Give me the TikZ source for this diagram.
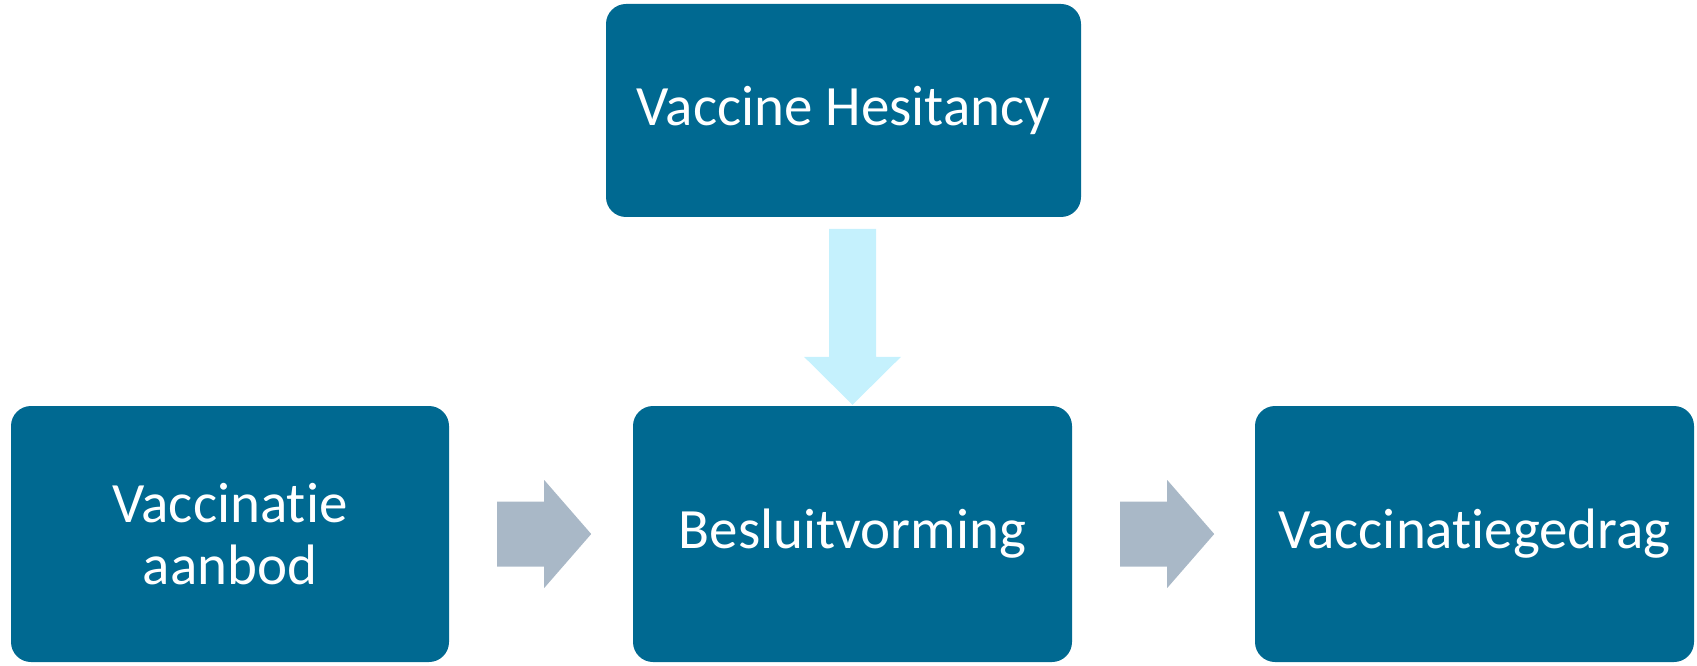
\documentclass[tikz,border=0pt]{standalone}
\usepackage{fontspec}
\setmainfont{Carlito}[Ligatures=NoCommon]
\usepackage{tikz}
\usetikzlibrary{calc}
\definecolor{boxteal}{RGB}{0,105,145}
\definecolor{hesitcyan}{RGB}{197,241,253}
\definecolor{flowgrey}{RGB}{169,184,199}
\tikzset{
  stage/.style={fill=boxteal, text=white, rounded corners=20pt, align=center,
    inner sep=0pt, minimum height=256pt, font=\fontsize{57}{62}\selectfont},
  downarrow/.style={fill=hesitcyan},
  sidearrow/.style={fill=flowgrey}
}

\begin{document}
\begin{tikzpicture}[x=1pt,y=1pt]
\useasboundingbox (0,0) rectangle (1697,665);
\node[stage, minimum width=475pt, minimum height=213pt] (hesitancy) at (843.5,554.5) {Vaccine Hesitancy};
\node[stage, minimum width=438pt] (aanbod) at (230,131) {Vaccinatie\\aanbod};
\node[stage, minimum width=439pt] (besluit) at (852.5,131) {Besluitvorming};
\node[stage, minimum width=439pt] (gedrag) at (1474.5,131) {Vaccinatiegedrag};
% hesitancy onto besluitvorming
\fill[downarrow] ($(besluit.north)+(-23.5,177)$) -- ++(47,0) -- ++(0,-128) -- ++(25,0)
  -- ($(besluit.north)+(0,1)$) -- ++(-48.5,48) -- ++(25,0) -- cycle;
% flow arrows between the stages
\foreach \src in {aanbod,besluit}
  \fill[sidearrow] ($(\src.east)+(48,32.5)$) -- ++(47,0) -- ++(0,21.5)
    -- ($(\src.east)+(142,0)$) -- ++(-47,-54) -- ++(0,21.5) -- ++(-47,0) -- cycle;
\end{tikzpicture}
\end{document}
